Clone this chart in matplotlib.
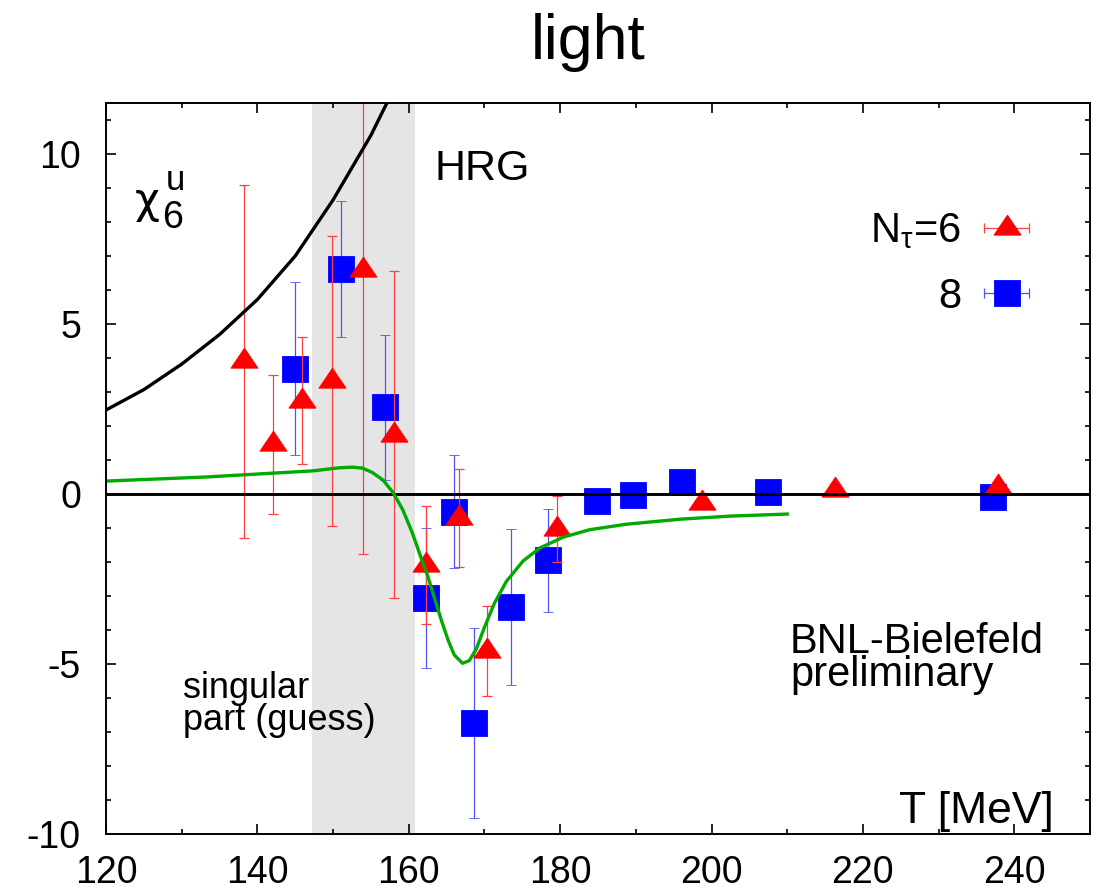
import numpy as np
import matplotlib
matplotlib.use("Agg")
import matplotlib.pyplot as plt
from matplotlib.path import Path
from matplotlib.lines import Line2D
from matplotlib.collections import LineCollection
from matplotlib.container import ErrorbarContainer
from matplotlib.legend_handler import HandlerErrorbar
from matplotlib.ticker import MultipleLocator

plt.rcParams["font.family"] = ["Liberation Sans", "DejaVu Sans"]
plt.rcParams["axes.unicode_minus"] = False

# ---- lattice data: sixth-order light-quark susceptibility ----
T_nt6 = [138.2, 142.0, 145.9, 149.9, 153.9, 158.1, 162.3, 166.7, 170.3, 179.6, 198.8, 216.3, 237.9]
chi_nt6 = [3.9, 1.46, 2.75, 3.33, 6.6, 1.75, -2.08, -0.7, -4.62, -1.02, -0.27, 0.11, 0.2]
err_nt6 = [5.2, 2.05, 1.88, 4.27, 8.36, 4.8, 1.73, 1.44, 1.33, 0.97, 0.15, 0.1, 0.1]

T_nt8 = [145.0, 151.05, 156.9, 162.3, 166.0, 168.6, 173.5, 178.4, 184.9, 189.6, 196.1, 207.4, 237.2]
chi_nt8 = [3.69, 6.61, 2.55, -3.06, -0.52, -6.74, -3.32, -1.95, -0.2, -0.03, 0.35, 0.05, -0.1]
err_nt8 = [2.54, 2.0, 2.14, 2.06, 1.67, 2.8, 2.29, 1.51, 0.1, 0.1, 0.1, 0.1, 0.1]

# hadron resonance gas curve
T_hrg = [120, 125, 130, 135, 140, 145, 150, 155, 160]
chi_hrg = [2.47, 3.07, 3.82, 4.69, 5.72, 7.0, 8.65, 10.55, 12.8]

# singular part (guess)
T_sing = [120.0, 133.2, 147.3, 150.8, 152.6, 153.9, 155.2, 156.6, 157.9, 159.2, 160.5, 161.6,
          162.5, 163.4, 164.3, 165.2, 166.0, 167.1, 168.0, 168.9, 170.0, 171.3, 172.9, 175.1,
          177.3, 180.4, 183.9, 188.7, 195.9, 202.5, 210.0]
chi_sing = [0.38, 0.50, 0.68, 0.77, 0.79, 0.76, 0.63, 0.41, 0.05, -0.46, -1.16, -1.86,
            -2.41, -3.06, -3.71, -4.30, -4.73, -4.98, -4.90, -4.57, -3.92, -3.22, -2.57, -1.97,
            -1.59, -1.27, -1.05, -0.89, -0.74, -0.65, -0.59]

# crossover band
band_lo, band_hi = 147.2, 160.8

xticks = [120, 140, 160, 180, 200, 220, 240]
yticks = [-10, -5, 0, 5, 10]

W, H = 1099, 894
fig = plt.figure(figsize=(W / 100, H / 100), dpi=100)
ax = fig.add_axes([106 / W, 1 - 834 / H, 984 / W, 731 / H])
ax.set_xlim(120, 250)
ax.set_ylim(-10, 11.5)

ax.axvspan(band_lo, band_hi, color="#e5e5e5", lw=0, zorder=0)

# triangle centred on its centroid
tri = Path([(0, 0.987), (-1, -0.493), (1, -0.493), (0, 0.987)],
           [Path.MOVETO, Path.LINETO, Path.LINETO, Path.CLOSEPOLY])

red, red_bar = "#ff0000", "#ff4040"
blue, blue_bar = "#0000ff", "#5050ff"

ax.errorbar(T_nt8, chi_nt8, yerr=err_nt8, fmt="s", ms=19, mfc=blue, mec=blue, mew=0.6,
            ecolor=blue_bar, elinewidth=0.9, capsize=3.8, capthick=0.9, zorder=3)
ax.errorbar(T_nt6, chi_nt6, yerr=err_nt6, fmt="none",
            ecolor=red_bar, elinewidth=0.9, capsize=3.8, capthick=0.9, zorder=3.5)
ax.plot(T_nt6, chi_nt6, ls="none", marker=tri, ms=19.5, mfc=red, mec=red, mew=0.6, zorder=3.6)

ax.axhline(0, color="black", lw=2.1, zorder=4)
ax.plot(T_hrg, chi_hrg, color="black", lw=2.4, zorder=4)
ax.plot(T_sing, chi_sing, color="#00aa00", lw=2.4, zorder=4)

# axes styling
for s in ax.spines.values():
    s.set_linewidth(1.4)
    s.set_zorder(5)
ax.set_xticks(xticks)
ax.set_xticklabels([str(v) for v in xticks])
ax.set_yticks(yticks)
ax.set_yticklabels([str(v) for v in yticks])
ax.xaxis.set_minor_locator(MultipleLocator(10))
ax.yaxis.set_minor_locator(MultipleLocator(1))
ax.tick_params(which="both", direction="in", top=True, right=True, width=1.2, colors="black")
ax.tick_params(which="major", length=7.5, labelsize=27)
ax.tick_params(which="minor", length=3.5)
ax.tick_params(axis="x", which="major", pad=15)
ax.tick_params(axis="y", which="major", pad=18)

# legend with horizontal error bars
def proxy(marker, color, barcolor, ms, label):
    line = Line2D([], [], ls="none", marker=marker, ms=ms, mfc=color, mec=color, mew=0.6)
    cap = Line2D([], [], ls="none", marker="|", ms=7.6, mec=barcolor, mew=0.9)
    bars = LineCollection([], colors=barcolor, linewidths=0.9)
    return ErrorbarContainer((line, (cap, cap), (bars,)), has_xerr=True, has_yerr=False,
                             label=label)

h6 = proxy(tri, red, red_bar, 19.5, r"$\mathregular{N_\tau}$=6")
h8 = proxy("s", blue, blue_bar, 19, "8")
leg = ax.legend([h6, h8], [h6.get_label(), h8.get_label()], loc="upper right",
                bbox_to_anchor=(0.945, 0.852), frameon=False, markerfirst=False,
                fontsize=30, handlelength=1.4, handletextpad=0.4, labelspacing=0.62,
                borderpad=0, borderaxespad=0,
                handler_map={ErrorbarContainer: HandlerErrorbar(xerr_size=0.54)})

# annotations (multi-line blocks are anchored on the baseline of their last line)
def ftext(px, py, s, **kw):
    fig.text(px / W, 1 - py / H, s, **kw)

ftext(588, 42, "light", ha="center", va="center", size=45)
ftext(434, 180, "HRG", ha="left", va="baseline", size=31)
ftext(135, 213, "χ", ha="left", va="baseline", size=31, family="DejaVu Sans")
ftext(162, 228, "6", ha="left", va="baseline", size=27)
ftext(166, 190, "u", ha="left", va="baseline", size=25)
ftext(790, 686, "BNL-Bielefeld\npreliminary", ha="left", va="baseline", size=30,
      linespacing=0.77)
ftext(183, 730, "singular\npart (guess)", ha="left", va="baseline", size=26,
      linespacing=0.88)
ftext(1054, 823, "T [MeV]", ha="right", va="baseline", size=32)

fig.savefig("out.png", dpi=100)
